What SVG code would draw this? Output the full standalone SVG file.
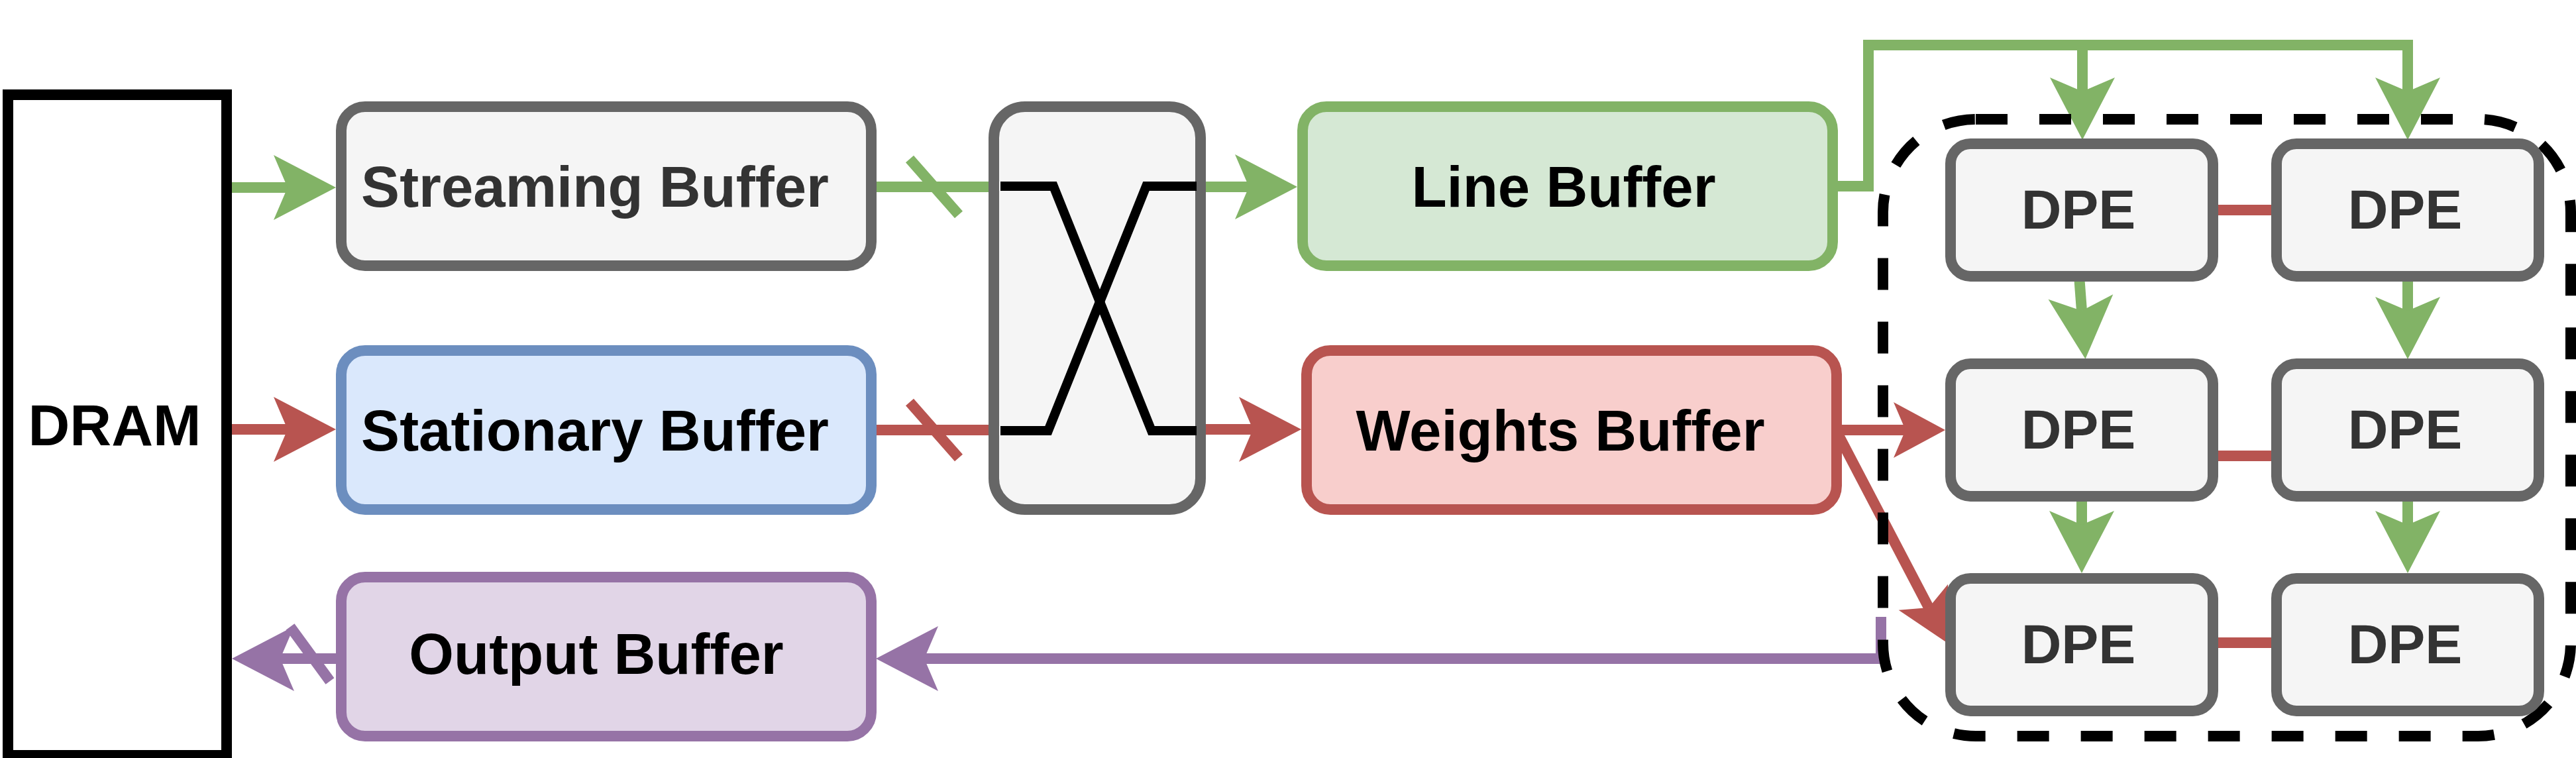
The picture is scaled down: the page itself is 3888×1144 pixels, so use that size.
<svg xmlns="http://www.w3.org/2000/svg" width="3888" height="1144" viewBox="0 0 3888 1144">
<defs>
<style>
.lbl{font-family:"Liberation Sans",Arial,Helvetica,sans-serif;font-weight:bold;font-size:87px;text-anchor:middle;fill:#000}
.dk{fill:#333333}
.dpe{font-size:84px;fill:#333333}
.box{stroke-width:16}
.gray{fill:#f5f5f5;stroke:#666666}
.blue{fill:#dae8fc;stroke:#6c8ebf}
.green{fill:#d5e8d4;stroke:#82b366}
.red{fill:#f8cecc;stroke:#b85450}
.purple{fill:#e1d5e7;stroke:#9673a6}
.c{fill:none;stroke-width:16;stroke-linejoin:miter}
.cg{stroke:#82b366}
.cr{stroke:#b85450}
.cp{stroke:#9673a6}
.x{fill:none;stroke:#000;stroke-width:14;stroke-linejoin:miter}
</style>
<marker id="ag" markerUnits="userSpaceOnUse" markerWidth="100" markerHeight="100" viewBox="0 -50 100 100" refX="21" refY="0" orient="auto" overflow="visible"><path d="M0,-49 L94,0 L0,49 L21,0 Z" fill="#82b366"/></marker>
<marker id="ar" markerUnits="userSpaceOnUse" markerWidth="100" markerHeight="100" viewBox="0 -50 100 100" refX="21" refY="0" orient="auto" overflow="visible"><path d="M0,-49 L94,0 L0,49 L21,0 Z" fill="#b85450"/></marker>
<marker id="ars" markerUnits="userSpaceOnUse" markerWidth="100" markerHeight="100" viewBox="0 -50 100 100" refX="18" refY="0" orient="auto" overflow="visible"><path d="M0,-42 L78,0 L0,42 L18,0 Z" fill="#b85450"/></marker>
<marker id="ap" markerUnits="userSpaceOnUse" markerWidth="100" markerHeight="100" viewBox="0 -50 100 100" refX="21" refY="0" orient="auto" overflow="visible"><path d="M0,-49 L94,0 L0,49 L21,0 Z" fill="#9673a6"/></marker>
</defs>
<rect width="3888" height="1144" fill="#ffffff"/>

<g id="connectors">
  <!-- DRAM -> Streaming -->
  <path class="c cg" d="M342,283 H434" marker-end="url(#ag)"/>
  <!-- DRAM -> Stationary -->
  <path class="c cr" d="M342,648 H434" marker-end="url(#ar)"/>
  <!-- Output -> DRAM -->
  <path class="c cp" d="M515,994 H423" marker-end="url(#ap)"/>
  <line class="c cp" x1="438" y1="946" x2="498" y2="1028"/>
  <!-- Streaming -> Crossbar -->
  <path class="c cg" d="M1315,282 H1500"/>
  <line class="c cg" x1="1373" y1="240" x2="1447" y2="324"/>
  <!-- Stationary -> Crossbar -->
  <path class="c cr" d="M1315,649 H1500"/>
  <line class="c cr" x1="1373" y1="607" x2="1447" y2="691"/>
  <!-- Crossbar -> Line Buffer -->
  <path class="c cg" d="M1812,282 H1885" marker-end="url(#ag)"/>
  <!-- Crossbar -> Weights Buffer -->
  <path class="c cr" d="M1812,648 H1891" marker-end="url(#ar)"/>
  <!-- Line Buffer -> DPE row 1 -->
  <path class="c cg" d="M2766,281 H2820 V68 H3634 V138" marker-end="url(#ag)"/>
  <path class="c cg" d="M3143,68 V138" marker-end="url(#ag)"/>
  <!-- DPE column flows -->
  <path class="c cg" d="M3138,416 L3142,469" marker-end="url(#ag)"/>
  <path class="c cg" d="M3142,749 V792" marker-end="url(#ag)"/>
  <path class="c cg" d="M3634,416 V469" marker-end="url(#ag)"/>
  <path class="c cg" d="M3634,749 V792" marker-end="url(#ag)"/>
  <!-- DPE row links -->
  <path class="c cr" d="M3340,317 H3436"/>
  <path class="c cr" d="M3340,688 H3436"/>
  <path class="c cr" d="M3340,970 H3436"/>
  <!-- Weights Buffer -> DPEs -->
  <path class="c cr" d="M2772,649 H2876" marker-end="url(#ars)"/>
  <path class="c cr" d="M2774,655 L2911.2,917.1" marker-end="url(#ars)"/>
  <!-- DPE array -> Output Buffer -->
  <path class="c cp" d="M2839,931 V994 H1395" marker-end="url(#ap)"/>
</g>

<g id="dpe-array">
  <rect x="2842" y="180" width="1038" height="931" rx="140" ry="140" fill="none" stroke="#000000" stroke-width="16" stroke-dasharray="48 48"/>
</g>

<g id="dram">
  <rect x="12" y="143" width="330" height="997" fill="#ffffff" stroke="#000000" stroke-width="16"/>
  <text class="lbl" x="173" y="672">DRAM</text>
</g>

<g id="streaming-buffer">
  <rect class="box gray" x="515" y="161" width="800" height="240" rx="36" ry="36"/>
  <text class="lbl dk" x="898" y="312">Streaming Buffer</text>
</g>

<g id="stationary-buffer">
  <rect class="box blue" x="515" y="529" width="800" height="240" rx="36" ry="36"/>
  <text class="lbl" x="898" y="680">Stationary Buffer</text>
</g>

<g id="output-buffer">
  <rect class="box purple" x="515" y="871" width="800" height="240" rx="36" ry="36"/>
  <text class="lbl" x="900" y="1017">Output Buffer</text>
</g>

<g id="crossbar">
  <rect class="box gray" x="1500" y="161" width="312" height="608" rx="47" ry="47"/>
  <polyline class="x" points="1510,281 1590,281 1738,650 1806,650"/>
  <polyline class="x" points="1510,650 1582,650 1730,281 1806,281"/>
</g>

<g id="line-buffer">
  <rect class="box green" x="1966" y="161" width="800" height="240" rx="36" ry="36"/>
  <text class="lbl" x="2360" y="312">Line Buffer</text>
</g>

<g id="weights-buffer">
  <rect class="box red" x="1972" y="529" width="800" height="240" rx="36" ry="36"/>
  <text class="lbl" x="2355" y="680">Weights Buffer</text>
</g>

<g id="dpe-1-1">
  <rect class="box gray" x="2944" y="217" width="396" height="200" rx="30" ry="30"/>
  <text class="lbl dpe" x="3137" y="345">DPE</text>
</g>
<g id="dpe-1-2">
  <rect class="box gray" x="3436" y="217" width="396" height="200" rx="30" ry="30"/>
  <text class="lbl dpe" x="3630" y="345">DPE</text>
</g>
<g id="dpe-2-1">
  <rect class="box gray" x="2944" y="549" width="396" height="200" rx="30" ry="30"/>
  <text class="lbl dpe" x="3137" y="677">DPE</text>
</g>
<g id="dpe-2-2">
  <rect class="box gray" x="3436" y="549" width="396" height="200" rx="30" ry="30"/>
  <text class="lbl dpe" x="3630" y="677">DPE</text>
</g>
<g id="dpe-3-1">
  <rect class="box gray" x="2944" y="873" width="396" height="200" rx="30" ry="30"/>
  <text class="lbl dpe" x="3137" y="1001">DPE</text>
</g>
<g id="dpe-3-2">
  <rect class="box gray" x="3436" y="873" width="396" height="200" rx="30" ry="30"/>
  <text class="lbl dpe" x="3630" y="1001">DPE</text>
</g>
</svg>
